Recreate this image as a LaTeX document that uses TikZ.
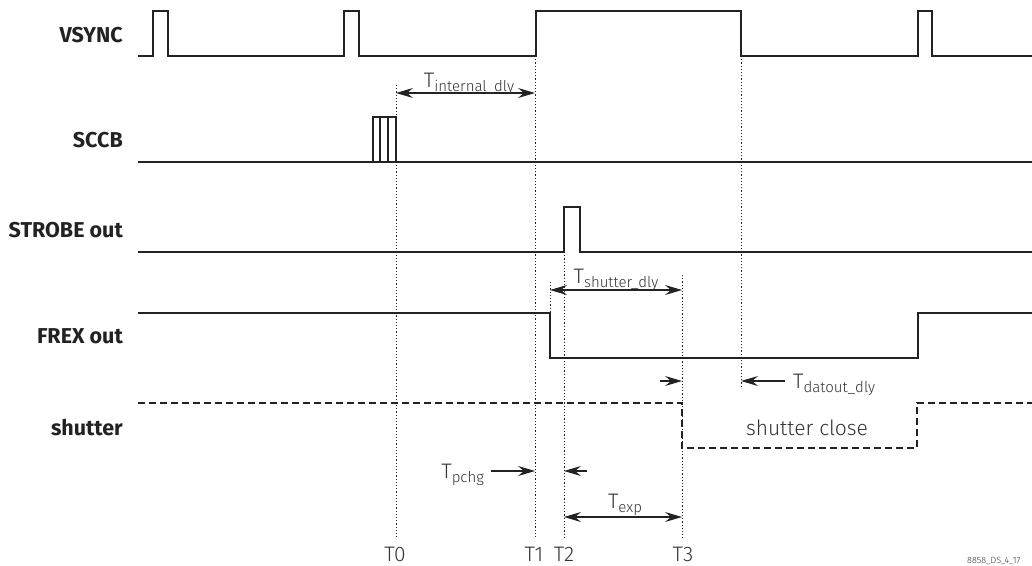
\documentclass[tikz,border=0pt]{standalone}
\usepackage{fontspec}
\setmainfont{Fira Sans}
\newfontfamily\lightfont{Fira Sans Light}
\usetikzlibrary{arrows.meta}
\definecolor{ink}{HTML}{222222}
\definecolor{txt}{HTML}{333333}
\newcommand\Tsb[1]{T\raisebox{-4pt}{\fontsize{15}{15}\selectfont #1}}
\tikzset{
  sig/.style={line width=1.8pt, draw=ink, line join=miter},
  dsig/.style={sig, dash pattern=on 7pt off 4pt},
  guide/.style={line width=0.9pt, draw=ink, dash pattern=on 1.2pt off 2pt},
  dim/.style={line width=1.1pt, draw=ink},
  barb/.tip={Stealth[length=17pt,width=10pt,inset=6pt]},
  lab/.style={font=\fontsize{21.5}{21.5}\selectfont\bfseries, anchor=base east, text=ink, inner sep=0pt},
  tl/.style={font=\lightfont\fontsize{21}{21}\selectfont, text=txt, anchor=base, inner sep=0pt}
}
\begin{document}
\begin{tikzpicture}[x=1pt,y=-1pt]
\useasboundingbox (0,0) rectangle (1032,565);
% left labels
\node[lab] (lv) at (123,42) {VSYNC};
\node[lab] (ls) at (123,147) {SCCB};
\node[lab] (lst) at (123,237) {STROBE out};
\node[lab] (lf) at (123,343) {FREX out};
\node[lab] (lsh) at (123,435) {shutter};
% guides
\draw[guide] (396,85) -- (396,538);
\draw[guide] (535,56) -- (535,538);
\draw[guide] (550,282) -- (550,313);
\draw[guide] (564,252) -- (564,538);
\draw[guide] (682,275) -- (682,538);
\draw[guide] (741,56) -- (741,387);
% VSYNC
\draw[sig] (138,56) -- (153,56) -- (153,11) -- (168,11) -- (168,56) -- (344,56) -- (344,11) -- (359,11) -- (359,56) -- (536,56) -- (536,11) -- (741,11) -- (741,56) -- (918,56) -- (918,11) -- (932,11) -- (932,56) -- (1032,56);
% SCCB
\draw[sig] (138,162) -- (1032,162);
\draw[line width=1.5pt, draw=ink] (373,162) -- (373,117) -- (396,117) -- (396,162)
  (380,117) -- (380,162) (388,117) -- (388,162);
% STROBE
\draw[sig] (138,252) -- (564,252) -- (564,207) -- (580,207) -- (580,252) -- (1032,252);
% FREX
\draw[sig] (138,313) -- (550,313) -- (550,358) -- (918,358) -- (918,313) -- (1032,313);
% shutter
\draw[dsig] (138,403) -- (682,403) -- (682,448) -- (917,448) -- (917,403) -- (1032,403);
% dimension coordinates
\coordinate (a0) at (396,93); \coordinate (a1) at (535,93);
\coordinate (b0) at (550,290); \coordinate (b1) at (682,290);
\coordinate (c0) at (564,517); \coordinate (c1) at (682,517);
\coordinate (p0) at (491,471); \coordinate (p1) at (535,471);
\coordinate (q0) at (587,471); \coordinate (q1) at (564,471);
\coordinate (r0) at (660,381); \coordinate (r1) at (682,381);
\coordinate (s0) at (785,381); \coordinate (s1) at (741,381);
\draw[dim,barb-barb] (a0) -- (a1);
\draw[dim,barb-barb] (b0) -- (b1);
\draw[dim,barb-barb] (c0) -- (c1);
\draw[dim,-barb] (p0) -- (p1);
\draw[dim,-barb] (q0) -- (q1);
\draw[dim,-barb] (r0) -- (r1);
\draw[dim,-barb] (s0) -- (s1);
% dimension labels
\node[tl] (ti) at (469,87) {\Tsb{internal\_dly}};
\node[tl] (tsd) at (616,283) {\Tsb{shutter\_dly}};
\node[tl] (te) at (625,508) {\Tsb{exp}};
\node[tl, anchor=base east] (tp) at (484,478) {\Tsb{pchg}};
\node[tl, anchor=base west] (td) at (793,388) {\Tsb{datout\_dly}};
\node[tl] (sc) at (807,435) {shutter close};
% time labels
\node[tl] (t0) at (395,561) {T0};
\node[tl] (t1) at (534,561) {T1};
\node[tl] (t2) at (564,561) {T2};
\node[tl] (t3) at (683,561) {T3};
\node[font=\lightfont\fontsize{9}{9}\selectfont, text=txt, anchor=base west, inner sep=0pt] (fn) at (967,563) {8858\_DS\_4\_17};
\end{tikzpicture}
\end{document}
